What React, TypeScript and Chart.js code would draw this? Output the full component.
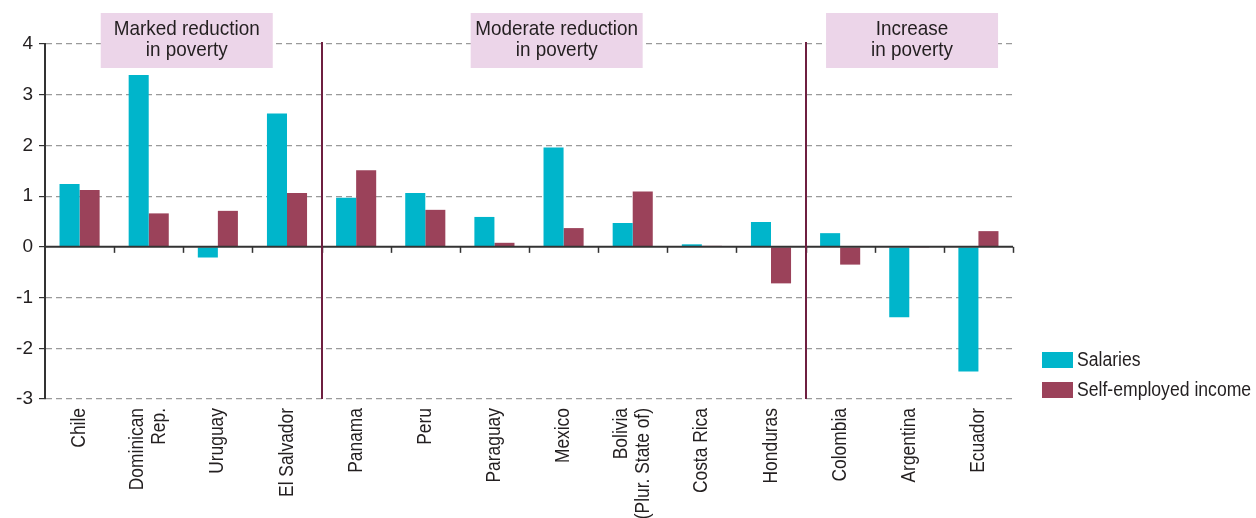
import React, { useEffect, useRef } from "react";
import { Chart, registerables } from "chart.js";

Chart.register(...registerables);

const categories: string[][] = [
  ["Chile"],
  ["Dominican", "Rep."],
  ["Uruguay"],
  ["El Salvador"],
  ["Panama"],
  ["Peru"],
  ["Paraguay"],
  ["Mexico"],
  ["Bolivia", "(Plur. State of)"],
  ["Costa Rica"],
  ["Honduras"],
  ["Colombia"],
  ["Argentina"],
  ["Ecuador"],
];

const salaries = [1.24, 3.39, -0.21, 2.63, 0.97, 1.06, 0.59, 1.96, 0.47, 0.05, 0.49, 0.27, -1.39, -2.46];
const selfEmployed = [1.12, 0.66, 0.71, 1.06, 1.51, 0.73, 0.08, 0.37, 1.09, 0.02, -0.72, -0.35, -0.02, 0.31];

const yTicks = [-3, -2, -1, 0, 1, 2, 3, 4];

// group annotations: lines of text and centre as a category position
const groupLabels: string[][] = [
  ["Marked reduction", "in poverty"],
  ["Moderate reduction", "in poverty"],
  ["Increase", "in poverty"],
];
const groupCenters = [1.55, 6.9, 12.04];
// dividers lie between these category indices (boundary after index)
const dividerAfter = [3, 10];

const FONT = "'Liberation Sans', Arial, sans-serif";
const TEXT = "#231f20";
const CYAN = "#00b5cb";
const MAROON = "#9b425a";

function narrowText(ctx: CanvasRenderingContext2D, text: string, x: number, y: number, sx: number, rot = 0) {
  ctx.save();
  ctx.translate(x, y);
  if (rot) ctx.rotate(rot);
  ctx.scale(sx, 1);
  ctx.fillText(text, 0, 0);
  ctx.restore();
}

const overlayPlugin = {
  id: "overlay",
  afterDatasetsDraw(chart: any) {
    const { ctx, chartArea, scales } = chart;
    const x = scales.x;
    const y = scales.y;
    const n = chart.data.labels.length;
    const step = (chartArea.right - chartArea.left) / n;
    ctx.save();

    // zero line
    const y0 = y.getPixelForValue(0);
    ctx.strokeStyle = "#333333";
    ctx.lineWidth = 2;
    ctx.beginPath();
    ctx.moveTo(chartArea.left, y0);
    ctx.lineTo(chartArea.right, y0);
    ctx.stroke();
    // ticks at category boundaries
    ctx.lineWidth = 1.5;
    for (let i = 1; i <= n; i++) {
      const bx = Math.round(x.getPixelForValue(i - 1) + step / 2) + 0.5;
      ctx.beginPath();
      ctx.moveTo(bx, y0);
      ctx.lineTo(bx, y0 + 6);
      ctx.stroke();
    }

    // dividers
    ctx.strokeStyle = "#6e1f40";
    ctx.lineWidth = 2;
    for (const d of dividerAfter) {
      const dx = Math.round(x.getPixelForValue(d) + step / 2);
      ctx.beginPath();
      ctx.moveTo(dx, chartArea.top - 2);
      ctx.lineTo(dx, chartArea.bottom);
      ctx.stroke();
    }

    // group boxes
    ctx.font = `21px ${FONT}`;
    ctx.textAlign = "center";
    ctx.textBaseline = "middle";
    groupLabels.forEach((lines, gi) => {
      const cx = x.getPixelForValue(groupCenters[gi]);
      const w = 172;
      const h = 55;
      const top = chartArea.top - 31;
      ctx.fillStyle = "#ecd5e9";
      ctx.fillRect(cx - w / 2, top, w, h);
      ctx.fillStyle = TEXT;
      lines.forEach((ln, li) => {
        narrowText(ctx, ln, cx, top + 16 + li * 21, 0.9);
      });
    });

    // category labels (rotated)
    ctx.font = `20px ${FONT}`;
    ctx.fillStyle = TEXT;
    ctx.textAlign = "right";
    ctx.textBaseline = "middle";
    const lh = 21.5;
    (chart.data.labels as string[][]).forEach((lab, i) => {
      const cx = x.getPixelForValue(i);
      const lines = Array.isArray(lab) ? lab : [lab];
      lines.forEach((ln, j) => {
        const lx = cx + (j - (lines.length - 1) / 2) * lh;
        narrowText(ctx, ln, lx, chartArea.bottom + 9, 0.87, -Math.PI / 2);
      });
    });

    // legend
    const lx = chartArea.right + 29;
    ctx.textAlign = "left";
    ctx.textBaseline = "middle";
    chart.data.datasets.forEach((ds: any, i: number) => {
      const ly = 352 + i * 30;
      ctx.fillStyle = ds.backgroundColor;
      ctx.fillRect(lx, ly, 31, 16);
      ctx.fillStyle = TEXT;
      narrowText(ctx, ds.label, lx + 35, ly + 8, 0.88);
    });

    ctx.restore();
  },
};

export default function App() {
  const ref = useRef<HTMLCanvasElement | null>(null);

  useEffect(() => {
    if (!ref.current) return;
    const chart = new Chart(ref.current, {
      type: "bar",
      data: {
        labels: categories as any,
        datasets: [
          { label: "Salaries", data: salaries, backgroundColor: CYAN, borderWidth: 0 },
          { label: "Self-employed income", data: selfEmployed, backgroundColor: MAROON, borderWidth: 0 },
        ],
      },
      options: {
        animation: false,
        responsive: false,
        maintainAspectRatio: false,
        layout: { padding: { left: 0, right: 243, top: 44, bottom: 0 } },
        plugins: {
          legend: { display: false },
          tooltip: { enabled: false },
        },
        datasets: {
          bar: { categoryPercentage: 0.58, barPercentage: 1.0 },
        },
        scales: {
          x: {
            grid: { display: false, drawTicks: false },
            border: { display: false },
            ticks: { display: false },
            afterFit: (scale: any) => {
              scale.height = 119;
            },
          },
          y: {
            min: -3,
            max: 4,
            afterBuildTicks: (scale: any) => {
              scale.ticks = yTicks.map((v) => ({ value: v }));
            },
            grid: {
              color: (ctx: any) => (ctx.tick && ctx.tick.value === 0 ? "rgba(0,0,0,0)" : "#9a9a9a"),
              tickColor: "#333333",
              tickLength: 6,
              lineWidth: 1.2,
              drawTicks: true,
            },
            border: { display: true, color: "#333333", width: 2, dash: [6, 4] as any },
            ticks: {
              color: TEXT,
              font: { family: FONT, size: 19 },
              padding: 6,
            },
            afterFit: (scale: any) => {
              scale.width = 45;
            },
          },
        },
      },
      plugins: [overlayPlugin],
    });
    return () => chart.destroy();
  }, []);

  return (
    <div style={{ position: "absolute", left: 0, top: 0, width: 1256, height: 518, background: "#fff" }}>
      <canvas ref={ref} width={1256} height={518} style={{ width: 1256, height: 518 }} />
    </div>
  );
}
